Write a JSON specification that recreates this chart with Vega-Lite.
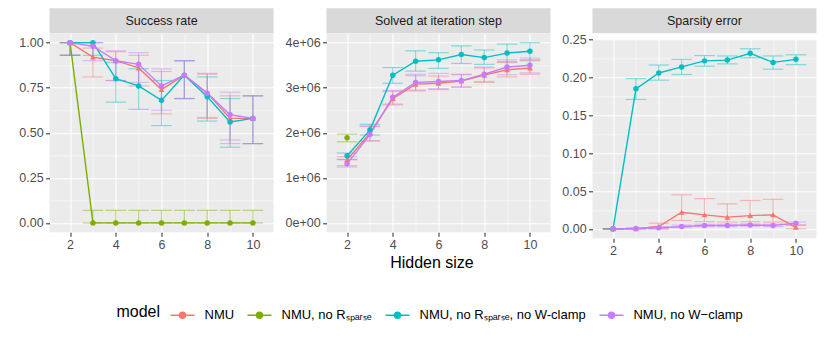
{
  "$schema": "https://vega.github.io/schema/vega-lite/v6.json",
  "autosize": {"type": "pad"},
  "padding": {"left": 18.5, "top": 8.3, "right": 5, "bottom": 5},
  "data": {"values": [
    {"panel": "Success rate", "model": "NMU", "size": 2, "value": 1, "lower": 0.93, "upper": 1},
    {"panel": "Success rate", "model": "NMU", "size": 3, "value": 0.92, "lower": 0.81, "upper": 0.97},
    {"panel": "Success rate", "model": "NMU", "size": 4, "value": 0.90, "lower": 0.79, "upper": 0.95},
    {"panel": "Success rate", "model": "NMU", "size": 5, "value": 0.86, "lower": 0.76, "upper": 0.93},
    {"panel": "Success rate", "model": "NMU", "size": 6, "value": 0.74, "lower": 0.605, "upper": 0.84},
    {"panel": "Success rate", "model": "NMU", "size": 7, "value": 0.82, "lower": 0.69, "upper": 0.90},
    {"panel": "Success rate", "model": "NMU", "size": 8, "value": 0.72, "lower": 0.58, "upper": 0.825},
    {"panel": "Success rate", "model": "NMU", "size": 9, "value": 0.58, "lower": 0.44, "upper": 0.705},
    {"panel": "Success rate", "model": "NMU", "size": 10, "value": 0.58, "lower": 0.44, "upper": 0.705},
    {"panel": "Success rate", "model": "NMU, no Rₛₚₐᵣₛₑ", "size": 2, "value": 1, "lower": 0.93, "upper": 1},
    {"panel": "Success rate", "model": "NMU, no Rₛₚₐᵣₛₑ", "size": 3, "value": 0, "lower": 0, "upper": 0.07},
    {"panel": "Success rate", "model": "NMU, no Rₛₚₐᵣₛₑ", "size": 4, "value": 0, "lower": 0, "upper": 0.07},
    {"panel": "Success rate", "model": "NMU, no Rₛₚₐᵣₛₑ", "size": 5, "value": 0, "lower": 0, "upper": 0.07},
    {"panel": "Success rate", "model": "NMU, no Rₛₚₐᵣₛₑ", "size": 6, "value": 0, "lower": 0, "upper": 0.07},
    {"panel": "Success rate", "model": "NMU, no Rₛₚₐᵣₛₑ", "size": 7, "value": 0, "lower": 0, "upper": 0.07},
    {"panel": "Success rate", "model": "NMU, no Rₛₚₐᵣₛₑ", "size": 8, "value": 0, "lower": 0, "upper": 0.07},
    {"panel": "Success rate", "model": "NMU, no Rₛₚₐᵣₛₑ", "size": 9, "value": 0, "lower": 0, "upper": 0.07},
    {"panel": "Success rate", "model": "NMU, no Rₛₚₐᵣₛₑ", "size": 10, "value": 0, "lower": 0, "upper": 0.07},
    {"panel": "Success rate", "model": "NMU, no Rₛₚₐᵣₛₑ, no W-clamp", "size": 2, "value": 1, "lower": 0.93, "upper": 1},
    {"panel": "Success rate", "model": "NMU, no Rₛₚₐᵣₛₑ, no W-clamp", "size": 3, "value": 1, "lower": 0.93, "upper": 1},
    {"panel": "Success rate", "model": "NMU, no Rₛₚₐᵣₛₑ, no W-clamp", "size": 4, "value": 0.80, "lower": 0.67, "upper": 0.89},
    {"panel": "Success rate", "model": "NMU, no Rₛₚₐᵣₛₑ, no W-clamp", "size": 5, "value": 0.76, "lower": 0.63, "upper": 0.855},
    {"panel": "Success rate", "model": "NMU, no Rₛₚₐᵣₛₑ, no W-clamp", "size": 6, "value": 0.68, "lower": 0.54, "upper": 0.79},
    {"panel": "Success rate", "model": "NMU, no Rₛₚₐᵣₛₑ, no W-clamp", "size": 7, "value": 0.82, "lower": 0.69, "upper": 0.90},
    {"panel": "Success rate", "model": "NMU, no Rₛₚₐᵣₛₑ, no W-clamp", "size": 8, "value": 0.70, "lower": 0.565, "upper": 0.81},
    {"panel": "Success rate", "model": "NMU, no Rₛₚₐᵣₛₑ, no W-clamp", "size": 9, "value": 0.56, "lower": 0.42, "upper": 0.69},
    {"panel": "Success rate", "model": "NMU, no Rₛₚₐᵣₛₑ, no W-clamp", "size": 10, "value": 0.58, "lower": 0.44, "upper": 0.705},
    {"panel": "Success rate", "model": "NMU, no W−clamp", "size": 2, "value": 1, "lower": 0.93, "upper": 1},
    {"panel": "Success rate", "model": "NMU, no W−clamp", "size": 3, "value": 0.98, "lower": 0.90, "upper": 1},
    {"panel": "Success rate", "model": "NMU, no W−clamp", "size": 4, "value": 0.90, "lower": 0.79, "upper": 0.955},
    {"panel": "Success rate", "model": "NMU, no W−clamp", "size": 5, "value": 0.88, "lower": 0.78, "upper": 0.945},
    {"panel": "Success rate", "model": "NMU, no W−clamp", "size": 6, "value": 0.76, "lower": 0.625, "upper": 0.855},
    {"panel": "Success rate", "model": "NMU, no W−clamp", "size": 7, "value": 0.82, "lower": 0.69, "upper": 0.90},
    {"panel": "Success rate", "model": "NMU, no W−clamp", "size": 8, "value": 0.72, "lower": 0.585, "upper": 0.83},
    {"panel": "Success rate", "model": "NMU, no W−clamp", "size": 9, "value": 0.60, "lower": 0.46, "upper": 0.725},
    {"panel": "Success rate", "model": "NMU, no W−clamp", "size": 10, "value": 0.58, "lower": 0.44, "upper": 0.705},

    {"panel": "Solved at iteration step", "model": "NMU", "size": 2, "value": 1400000, "lower": 1270000, "upper": 1470000},
    {"panel": "Solved at iteration step", "model": "NMU", "size": 3, "value": 1990000, "lower": 1820000, "upper": 2150000},
    {"panel": "Solved at iteration step", "model": "NMU", "size": 4, "value": 2760000, "lower": 2620000, "upper": 2920000},
    {"panel": "Solved at iteration step", "model": "NMU", "size": 5, "value": 3080000, "lower": 2930000, "upper": 3270000},
    {"panel": "Solved at iteration step", "model": "NMU", "size": 6, "value": 3100000, "lower": 2960000, "upper": 3260000},
    {"panel": "Solved at iteration step", "model": "NMU", "size": 7, "value": 3150000, "lower": 3010000, "upper": 3290000},
    {"panel": "Solved at iteration step", "model": "NMU", "size": 8, "value": 3280000, "lower": 3120000, "upper": 3440000},
    {"panel": "Solved at iteration step", "model": "NMU", "size": 9, "value": 3400000, "lower": 3240000, "upper": 3560000},
    {"panel": "Solved at iteration step", "model": "NMU", "size": 10, "value": 3440000, "lower": 3300000, "upper": 3600000},
    {"panel": "Solved at iteration step", "model": "NMU, no Rₛₚₐᵣₛₑ", "size": 2, "value": 1890000, "lower": 1800000, "upper": 1970000},
    {"panel": "Solved at iteration step", "model": "NMU, no Rₛₚₐᵣₛₑ, no W-clamp", "size": 2, "value": 1490000, "lower": 1410000, "upper": 1550000},
    {"panel": "Solved at iteration step", "model": "NMU, no Rₛₚₐᵣₛₑ, no W-clamp", "size": 3, "value": 2060000, "lower": 1950000, "upper": 2190000},
    {"panel": "Solved at iteration step", "model": "NMU, no Rₛₚₐᵣₛₑ, no W-clamp", "size": 4, "value": 3280000, "lower": 3100000, "upper": 3450000},
    {"panel": "Solved at iteration step", "model": "NMU, no Rₛₚₐᵣₛₑ, no W-clamp", "size": 5, "value": 3590000, "lower": 3370000, "upper": 3820000},
    {"panel": "Solved at iteration step", "model": "NMU, no Rₛₚₐᵣₛₑ, no W-clamp", "size": 6, "value": 3620000, "lower": 3430000, "upper": 3780000},
    {"panel": "Solved at iteration step", "model": "NMU, no Rₛₚₐᵣₛₑ, no W-clamp", "size": 7, "value": 3740000, "lower": 3540000, "upper": 3930000},
    {"panel": "Solved at iteration step", "model": "NMU, no Rₛₚₐᵣₛₑ, no W-clamp", "size": 8, "value": 3670000, "lower": 3520000, "upper": 3840000},
    {"panel": "Solved at iteration step", "model": "NMU, no Rₛₚₐᵣₛₑ, no W-clamp", "size": 9, "value": 3770000, "lower": 3580000, "upper": 3970000},
    {"panel": "Solved at iteration step", "model": "NMU, no Rₛₚₐᵣₛₑ, no W-clamp", "size": 10, "value": 3810000, "lower": 3620000, "upper": 4000000},
    {"panel": "Solved at iteration step", "model": "NMU, no W−clamp", "size": 2, "value": 1310000, "lower": 1240000, "upper": 1400000},
    {"panel": "Solved at iteration step", "model": "NMU, no W−clamp", "size": 3, "value": 1960000, "lower": 1820000, "upper": 2140000},
    {"panel": "Solved at iteration step", "model": "NMU, no W−clamp", "size": 4, "value": 2790000, "lower": 2640000, "upper": 2940000},
    {"panel": "Solved at iteration step", "model": "NMU, no W−clamp", "size": 5, "value": 3120000, "lower": 2950000, "upper": 3300000},
    {"panel": "Solved at iteration step", "model": "NMU, no W−clamp", "size": 6, "value": 3140000, "lower": 2980000, "upper": 3320000},
    {"panel": "Solved at iteration step", "model": "NMU, no W−clamp", "size": 7, "value": 3160000, "lower": 3020000, "upper": 3300000},
    {"panel": "Solved at iteration step", "model": "NMU, no W−clamp", "size": 8, "value": 3300000, "lower": 3140000, "upper": 3460000},
    {"panel": "Solved at iteration step", "model": "NMU, no W−clamp", "size": 9, "value": 3460000, "lower": 3290000, "upper": 3620000},
    {"panel": "Solved at iteration step", "model": "NMU, no W−clamp", "size": 10, "value": 3500000, "lower": 3330000, "upper": 3660000},

    {"panel": "Sparsity error", "model": "NMU", "size": 2, "value": 0, "lower": 0, "upper": 0},
    {"panel": "Sparsity error", "model": "NMU", "size": 3, "value": 0, "lower": 0, "upper": 0},
    {"panel": "Sparsity error", "model": "NMU", "size": 4, "value": 0.003, "lower": 0, "upper": 0.0075},
    {"panel": "Sparsity error", "model": "NMU", "size": 5, "value": 0.022, "lower": 0.011, "upper": 0.045},
    {"panel": "Sparsity error", "model": "NMU", "size": 6, "value": 0.0185, "lower": 0.0095, "upper": 0.040},
    {"panel": "Sparsity error", "model": "NMU", "size": 7, "value": 0.0155, "lower": 0.009, "upper": 0.033},
    {"panel": "Sparsity error", "model": "NMU", "size": 8, "value": 0.0175, "lower": 0.0095, "upper": 0.0375},
    {"panel": "Sparsity error", "model": "NMU", "size": 9, "value": 0.0185, "lower": 0.009, "upper": 0.039},
    {"panel": "Sparsity error", "model": "NMU", "size": 10, "value": 0.002, "lower": 0, "upper": 0.005},
    {"panel": "Sparsity error", "model": "NMU, no Rₛₚₐᵣₛₑ", "size": 2, "value": 0, "lower": 0, "upper": 0},
    {"panel": "Sparsity error", "model": "NMU, no Rₛₚₐᵣₛₑ, no W-clamp", "size": 2, "value": 0, "lower": 0, "upper": 0},
    {"panel": "Sparsity error", "model": "NMU, no Rₛₚₐᵣₛₑ, no W-clamp", "size": 3, "value": 0.185, "lower": 0.171, "upper": 0.1985},
    {"panel": "Sparsity error", "model": "NMU, no Rₛₚₐᵣₛₑ, no W-clamp", "size": 4, "value": 0.206, "lower": 0.1965, "upper": 0.2165},
    {"panel": "Sparsity error", "model": "NMU, no Rₛₚₐᵣₛₑ, no W-clamp", "size": 5, "value": 0.214, "lower": 0.204, "upper": 0.224},
    {"panel": "Sparsity error", "model": "NMU, no Rₛₚₐᵣₛₑ, no W-clamp", "size": 6, "value": 0.222, "lower": 0.215, "upper": 0.229},
    {"panel": "Sparsity error", "model": "NMU, no Rₛₚₐᵣₛₑ, no W-clamp", "size": 7, "value": 0.223, "lower": 0.218, "upper": 0.2285},
    {"panel": "Sparsity error", "model": "NMU, no Rₛₚₐᵣₛₑ, no W-clamp", "size": 8, "value": 0.232, "lower": 0.226, "upper": 0.238},
    {"panel": "Sparsity error", "model": "NMU, no Rₛₚₐᵣₛₑ, no W-clamp", "size": 9, "value": 0.220, "lower": 0.211, "upper": 0.2285},
    {"panel": "Sparsity error", "model": "NMU, no Rₛₚₐᵣₛₑ, no W-clamp", "size": 10, "value": 0.224, "lower": 0.217, "upper": 0.230},
    {"panel": "Sparsity error", "model": "NMU, no W−clamp", "size": 2, "value": 0, "lower": 0, "upper": 0},
    {"panel": "Sparsity error", "model": "NMU, no W−clamp", "size": 3, "value": 0.0005, "lower": 0, "upper": 0.0015},
    {"panel": "Sparsity error", "model": "NMU, no W−clamp", "size": 4, "value": 0.0013, "lower": 0, "upper": 0.003},
    {"panel": "Sparsity error", "model": "NMU, no W−clamp", "size": 5, "value": 0.003, "lower": 0.0015, "upper": 0.005},
    {"panel": "Sparsity error", "model": "NMU, no W−clamp", "size": 6, "value": 0.0045, "lower": 0.003, "upper": 0.006},
    {"panel": "Sparsity error", "model": "NMU, no W−clamp", "size": 7, "value": 0.0045, "lower": 0.003, "upper": 0.006},
    {"panel": "Sparsity error", "model": "NMU, no W−clamp", "size": 8, "value": 0.005, "lower": 0.0035, "upper": 0.0065},
    {"panel": "Sparsity error", "model": "NMU, no W−clamp", "size": 9, "value": 0.0045, "lower": 0.003, "upper": 0.006},
    {"panel": "Sparsity error", "model": "NMU, no W−clamp", "size": 10, "value": 0.0075, "lower": 0.005, "upper": 0.009}
  ]},
  "hconcat": [
    {
      "spacing": 0,
      "vconcat": [
        {"width": 224, "height": 25, "view": {"fill": "#D9D9D9", "stroke": null},
         "data": {"values": [{"strip": "Success rate"}]},
         "mark": {"type": "text", "fontSize": 12.5, "color": "#1A1A1A"},
         "encoding": {"text": {"field": "strip"}}},
        {"width": 224, "height": 199,
         "transform": [{"filter": "datum.panel == 'Success rate'"}],
         "encoding": {
           "x": {"field": "size", "type": "quantitative", "scale": {"domain": [1.1, 10.9], "nice": false, "zero": false},
                 "axis": {"values": [2,3,4,5,6,7,8,9,10], "title": null, "labelExpr": "datum.value % 2 == 0 ? datum.label : ''",
                          "tickOpacity": {"condition": {"test": "datum.value % 2 == 0", "value": 1}, "value": 0},
                          "gridWidth": {"condition": {"test": "datum.value % 2 == 0", "value": 1.1}, "value": 0.55}}},
           "color": {"field": "model", "type": "nominal",
                     "scale": {"domain": ["NMU", "NMU, no Rₛₚₐᵣₛₑ", "NMU, no Rₛₚₐᵣₛₑ, no W-clamp", "NMU, no W−clamp"], "range": ["#F8766D", "#7CAE00", "#00BFC4", "#C77CFF"]},
                     "legend": {"orient": "none", "direction": "horizontal", "legendX": 67, "legendY": 294, "title": "model", "titleOrient": "left",
                                "titleFontSize": 16, "titleFontWeight": "normal", "titleColor": "#000000", "titlePadding": 9,
                                "labelFontSize": 13, "labelColor": "#000000", "labelOffset": 9, "columnPadding": 10, "labelLimit": 400,
                                "symbolType": "M-1,0L1,0M0.25,0A0.25,0.25,0,1,1,-0.25,0A0.25,0.25,0,1,1,0.25,0Z", "symbolSize": 576, "symbolStrokeWidth": 1.4, "symbolOpacity": 1,
                                "encode": {"symbols": {"update": {"stroke": {"scale": "color", "field": "value"}, "strokeWidth": {"value": 1.4}}}}}}
         },
         "layer": [
           {"mark": {"type": "rule", "opacity": 0.45, "strokeWidth": 1.2},
            "encoding": {"y": {"field": "lower", "type": "quantitative", "scale": {"domain": [-0.052, 1.052], "nice": false, "zero": false},
                               "axis": {"values": [0,0.125,0.25,0.375,0.5,0.625,0.75,0.875,1], "title": null,
                                        "labelExpr": "abs(datum.value*4 - round(datum.value*4)) < 1e-6 ? format(datum.value, '.2f') : ''",
                                        "tickOpacity": {"condition": {"test": "abs(datum.value*4 - round(datum.value*4)) < 1e-6", "value": 1}, "value": 0},
                                        "gridWidth": {"condition": {"test": "abs(datum.value*4 - round(datum.value*4)) < 1e-6", "value": 1.1}, "value": 0.55}}},
                         "y2": {"field": "upper"}}},
           {"mark": {"type": "tick", "orient": "horizontal", "size": 20.5, "thickness": 1.2, "opacity": 0.45},
            "encoding": {"y": {"field": "lower", "type": "quantitative", "scale": {"domain": [-0.052, 1.052], "nice": false, "zero": false},
                               "axis": {"values": [0,0.125,0.25,0.375,0.5,0.625,0.75,0.875,1], "title": null,
                                        "labelExpr": "abs(datum.value*4 - round(datum.value*4)) < 1e-6 ? format(datum.value, '.2f') : ''",
                                        "tickOpacity": {"condition": {"test": "abs(datum.value*4 - round(datum.value*4)) < 1e-6", "value": 1}, "value": 0},
                                        "gridWidth": {"condition": {"test": "abs(datum.value*4 - round(datum.value*4)) < 1e-6", "value": 1.1}, "value": 0.55}}}}},
           {"mark": {"type": "tick", "orient": "horizontal", "size": 20.5, "thickness": 1.2, "opacity": 0.45},
            "encoding": {"y": {"field": "upper", "type": "quantitative", "scale": {"domain": [-0.052, 1.052], "nice": false, "zero": false},
                               "axis": {"values": [0,0.125,0.25,0.375,0.5,0.625,0.75,0.875,1], "title": null,
                                        "labelExpr": "abs(datum.value*4 - round(datum.value*4)) < 1e-6 ? format(datum.value, '.2f') : ''",
                                        "tickOpacity": {"condition": {"test": "abs(datum.value*4 - round(datum.value*4)) < 1e-6", "value": 1}, "value": 0},
                                        "gridWidth": {"condition": {"test": "abs(datum.value*4 - round(datum.value*4)) < 1e-6", "value": 1.1}, "value": 0.55}}}}},
           {"mark": {"type": "line", "strokeWidth": 1.4},
            "encoding": {"y": {"field": "value", "type": "quantitative", "scale": {"domain": [-0.052, 1.052], "nice": false, "zero": false},
                               "axis": {"values": [0,0.125,0.25,0.375,0.5,0.625,0.75,0.875,1], "title": null,
                                        "labelExpr": "abs(datum.value*4 - round(datum.value*4)) < 1e-6 ? format(datum.value, '.2f') : ''",
                                        "tickOpacity": {"condition": {"test": "abs(datum.value*4 - round(datum.value*4)) < 1e-6", "value": 1}, "value": 0},
                                        "gridWidth": {"condition": {"test": "abs(datum.value*4 - round(datum.value*4)) < 1e-6", "value": 1.1}, "value": 0.55}}}}},
           {"transform": [{"filter": "datum.model == 'NMU'"}],
            "mark": {"type": "point", "shape": "triangle-up", "filled": true, "size": 34, "opacity": 1},
            "encoding": {"y": {"field": "value", "type": "quantitative", "scale": {"domain": [-0.052, 1.052], "nice": false, "zero": false},
                               "axis": {"values": [0,0.125,0.25,0.375,0.5,0.625,0.75,0.875,1], "title": null,
                                        "labelExpr": "abs(datum.value*4 - round(datum.value*4)) < 1e-6 ? format(datum.value, '.2f') : ''",
                                        "tickOpacity": {"condition": {"test": "abs(datum.value*4 - round(datum.value*4)) < 1e-6", "value": 1}, "value": 0},
                                        "gridWidth": {"condition": {"test": "abs(datum.value*4 - round(datum.value*4)) < 1e-6", "value": 1.1}, "value": 0.55}}}}},
           {"transform": [{"filter": "datum.model != 'NMU'"}],
            "mark": {"type": "point", "shape": "circle", "filled": true, "size": 30, "opacity": 1},
            "encoding": {"y": {"field": "value", "type": "quantitative", "scale": {"domain": [-0.052, 1.052], "nice": false, "zero": false},
                               "axis": {"values": [0,0.125,0.25,0.375,0.5,0.625,0.75,0.875,1], "title": null,
                                        "labelExpr": "abs(datum.value*4 - round(datum.value*4)) < 1e-6 ? format(datum.value, '.2f') : ''",
                                        "tickOpacity": {"condition": {"test": "abs(datum.value*4 - round(datum.value*4)) < 1e-6", "value": 1}, "value": 0},
                                        "gridWidth": {"condition": {"test": "abs(datum.value*4 - round(datum.value*4)) < 1e-6", "value": 1.1}, "value": 0.55}}}}}
         ]}
      ]
    },
    {
      "spacing": 0,
      "vconcat": [
        {"width": 224, "height": 25, "view": {"fill": "#D9D9D9", "stroke": null},
         "data": {"values": [{"strip": "Solved at iteration step"}]},
         "mark": {"type": "text", "fontSize": 12.5, "color": "#1A1A1A"},
         "encoding": {"text": {"field": "strip"}}},
        {"width": 224, "height": 199,
         "transform": [{"filter": "datum.panel == 'Solved at iteration step'"}],
         "encoding": {
           "x": {"field": "size", "type": "quantitative", "scale": {"domain": [1.1, 10.9], "nice": false, "zero": false},
                 "axis": {"values": [2,3,4,5,6,7,8,9,10], "title": "Hidden size", "titleX": 105, "titlePadding": 3, "labelExpr": "datum.value % 2 == 0 ? datum.label : ''",
                          "tickOpacity": {"condition": {"test": "datum.value % 2 == 0", "value": 1}, "value": 0},
                          "gridWidth": {"condition": {"test": "datum.value % 2 == 0", "value": 1.1}, "value": 0.55}}},
           "color": {"field": "model", "type": "nominal",
                     "scale": {"domain": ["NMU", "NMU, no Rₛₚₐᵣₛₑ", "NMU, no Rₛₚₐᵣₛₑ, no W-clamp", "NMU, no W−clamp"], "range": ["#F8766D", "#7CAE00", "#00BFC4", "#C77CFF"]},
                     "legend": {"orient": "none", "direction": "horizontal", "legendX": 67, "legendY": 294, "title": "model", "titleOrient": "left",
                                "titleFontSize": 16, "titleFontWeight": "normal", "titleColor": "#000000", "titlePadding": 9,
                                "labelFontSize": 13, "labelColor": "#000000", "labelOffset": 9, "columnPadding": 10, "labelLimit": 400,
                                "symbolType": "M-1,0L1,0M0.25,0A0.25,0.25,0,1,1,-0.25,0A0.25,0.25,0,1,1,0.25,0Z", "symbolSize": 576, "symbolStrokeWidth": 1.4, "symbolOpacity": 1,
                                "encode": {"symbols": {"update": {"stroke": {"scale": "color", "field": "value"}, "strokeWidth": {"value": 1.4}}}}}}
         },
         "layer": [
           {"mark": {"type": "rule", "opacity": 0.45, "strokeWidth": 1.2},
            "encoding": {"y": {"field": "lower", "type": "quantitative", "scale": {"domain": [-210000, 4210000], "nice": false, "zero": false},
                               "axis": {"values": [0,500000,1000000,1500000,2000000,2500000,3000000,3500000,4000000], "title": null,
                                        "labelExpr": "datum.value == 0 ? '0e+00' : (datum.value % 1000000 == 0 ? format(datum.value/1000000, 'd') + 'e+06' : '')",
                                        "tickOpacity": {"condition": {"test": "datum.value % 1000000 == 0", "value": 1}, "value": 0},
                                        "gridWidth": {"condition": {"test": "datum.value % 1000000 == 0", "value": 1.1}, "value": 0.55}}},
                         "y2": {"field": "upper"}}},
           {"mark": {"type": "tick", "orient": "horizontal", "size": 20.5, "thickness": 1.2, "opacity": 0.45},
            "encoding": {"y": {"field": "lower", "type": "quantitative", "scale": {"domain": [-210000, 4210000], "nice": false, "zero": false},
                               "axis": {"values": [0,500000,1000000,1500000,2000000,2500000,3000000,3500000,4000000], "title": null,
                                        "labelExpr": "datum.value == 0 ? '0e+00' : (datum.value % 1000000 == 0 ? format(datum.value/1000000, 'd') + 'e+06' : '')",
                                        "tickOpacity": {"condition": {"test": "datum.value % 1000000 == 0", "value": 1}, "value": 0},
                                        "gridWidth": {"condition": {"test": "datum.value % 1000000 == 0", "value": 1.1}, "value": 0.55}}}}},
           {"mark": {"type": "tick", "orient": "horizontal", "size": 20.5, "thickness": 1.2, "opacity": 0.45},
            "encoding": {"y": {"field": "upper", "type": "quantitative", "scale": {"domain": [-210000, 4210000], "nice": false, "zero": false},
                               "axis": {"values": [0,500000,1000000,1500000,2000000,2500000,3000000,3500000,4000000], "title": null,
                                        "labelExpr": "datum.value == 0 ? '0e+00' : (datum.value % 1000000 == 0 ? format(datum.value/1000000, 'd') + 'e+06' : '')",
                                        "tickOpacity": {"condition": {"test": "datum.value % 1000000 == 0", "value": 1}, "value": 0},
                                        "gridWidth": {"condition": {"test": "datum.value % 1000000 == 0", "value": 1.1}, "value": 0.55}}}}},
           {"mark": {"type": "line", "strokeWidth": 1.4},
            "encoding": {"y": {"field": "value", "type": "quantitative", "scale": {"domain": [-210000, 4210000], "nice": false, "zero": false},
                               "axis": {"values": [0,500000,1000000,1500000,2000000,2500000,3000000,3500000,4000000], "title": null,
                                        "labelExpr": "datum.value == 0 ? '0e+00' : (datum.value % 1000000 == 0 ? format(datum.value/1000000, 'd') + 'e+06' : '')",
                                        "tickOpacity": {"condition": {"test": "datum.value % 1000000 == 0", "value": 1}, "value": 0},
                                        "gridWidth": {"condition": {"test": "datum.value % 1000000 == 0", "value": 1.1}, "value": 0.55}}}}},
           {"transform": [{"filter": "datum.model == 'NMU'"}],
            "mark": {"type": "point", "shape": "triangle-up", "filled": true, "size": 34, "opacity": 1},
            "encoding": {"y": {"field": "value", "type": "quantitative", "scale": {"domain": [-210000, 4210000], "nice": false, "zero": false},
                               "axis": {"values": [0,500000,1000000,1500000,2000000,2500000,3000000,3500000,4000000], "title": null,
                                        "labelExpr": "datum.value == 0 ? '0e+00' : (datum.value % 1000000 == 0 ? format(datum.value/1000000, 'd') + 'e+06' : '')",
                                        "tickOpacity": {"condition": {"test": "datum.value % 1000000 == 0", "value": 1}, "value": 0},
                                        "gridWidth": {"condition": {"test": "datum.value % 1000000 == 0", "value": 1.1}, "value": 0.55}}}}},
           {"transform": [{"filter": "datum.model != 'NMU'"}],
            "mark": {"type": "point", "shape": "circle", "filled": true, "size": 30, "opacity": 1},
            "encoding": {"y": {"field": "value", "type": "quantitative", "scale": {"domain": [-210000, 4210000], "nice": false, "zero": false},
                               "axis": {"values": [0,500000,1000000,1500000,2000000,2500000,3000000,3500000,4000000], "title": null,
                                        "labelExpr": "datum.value == 0 ? '0e+00' : (datum.value % 1000000 == 0 ? format(datum.value/1000000, 'd') + 'e+06' : '')",
                                        "tickOpacity": {"condition": {"test": "datum.value % 1000000 == 0", "value": 1}, "value": 0},
                                        "gridWidth": {"condition": {"test": "datum.value % 1000000 == 0", "value": 1.1}, "value": 0.55}}}}}
         ]}
      ]
    },
    {
      "spacing": 0,
      "vconcat": [
        {"width": 224, "height": 25, "view": {"fill": "#D9D9D9", "stroke": null},
         "data": {"values": [{"strip": "Sparsity error"}]},
         "mark": {"type": "text", "fontSize": 12.5, "color": "#1A1A1A"},
         "encoding": {"text": {"field": "strip"}}},
        {"width": 224, "height": 199,
         "transform": [{"filter": "datum.panel == 'Sparsity error'"}],
         "encoding": {
           "x": {"field": "size", "type": "quantitative", "scale": {"domain": [1.1, 10.9], "nice": false, "zero": false},
                 "axis": {"values": [2,3,4,5,6,7,8,9,10], "title": null, "labelExpr": "datum.value % 2 == 0 ? datum.label : ''",
                          "tickOpacity": {"condition": {"test": "datum.value % 2 == 0", "value": 1}, "value": 0},
                          "gridWidth": {"condition": {"test": "datum.value % 2 == 0", "value": 1.1}, "value": 0.55}}},
           "color": {"field": "model", "type": "nominal",
                     "scale": {"domain": ["NMU", "NMU, no Rₛₚₐᵣₛₑ", "NMU, no Rₛₚₐᵣₛₑ, no W-clamp", "NMU, no W−clamp"], "range": ["#F8766D", "#7CAE00", "#00BFC4", "#C77CFF"]},
                     "legend": {"orient": "none", "direction": "horizontal", "legendX": 67, "legendY": 294, "title": "model", "titleOrient": "left",
                                "titleFontSize": 16, "titleFontWeight": "normal", "titleColor": "#000000", "titlePadding": 9,
                                "labelFontSize": 13, "labelColor": "#000000", "labelOffset": 9, "columnPadding": 10, "labelLimit": 400,
                                "symbolType": "M-1,0L1,0M0.25,0A0.25,0.25,0,1,1,-0.25,0A0.25,0.25,0,1,1,0.25,0Z", "symbolSize": 576, "symbolStrokeWidth": 1.4, "symbolOpacity": 1,
                                "encode": {"symbols": {"update": {"stroke": {"scale": "color", "field": "value"}, "strokeWidth": {"value": 1.4}}}}}}
         },
         "layer": [
           {"mark": {"type": "rule", "opacity": 0.45, "strokeWidth": 1.2},
            "encoding": {"y": {"field": "lower", "type": "quantitative", "scale": {"domain": [-0.0125, 0.2505], "nice": false, "zero": false},
                               "axis": {"values": [0,0.025,0.05,0.075,0.1,0.125,0.15,0.175,0.2,0.225,0.25], "title": null,
                                        "labelExpr": "abs(datum.value*20 - round(datum.value*20)) < 1e-6 ? format(datum.value, '.2f') : ''",
                                        "tickOpacity": {"condition": {"test": "abs(datum.value*20 - round(datum.value*20)) < 1e-6", "value": 1}, "value": 0},
                                        "gridWidth": {"condition": {"test": "abs(datum.value*20 - round(datum.value*20)) < 1e-6", "value": 1.1}, "value": 0.55}}},
                         "y2": {"field": "upper"}}},
           {"mark": {"type": "tick", "orient": "horizontal", "size": 20.5, "thickness": 1.2, "opacity": 0.45},
            "encoding": {"y": {"field": "lower", "type": "quantitative", "scale": {"domain": [-0.0125, 0.2505], "nice": false, "zero": false},
                               "axis": {"values": [0,0.025,0.05,0.075,0.1,0.125,0.15,0.175,0.2,0.225,0.25], "title": null,
                                        "labelExpr": "abs(datum.value*20 - round(datum.value*20)) < 1e-6 ? format(datum.value, '.2f') : ''",
                                        "tickOpacity": {"condition": {"test": "abs(datum.value*20 - round(datum.value*20)) < 1e-6", "value": 1}, "value": 0},
                                        "gridWidth": {"condition": {"test": "abs(datum.value*20 - round(datum.value*20)) < 1e-6", "value": 1.1}, "value": 0.55}}}}},
           {"mark": {"type": "tick", "orient": "horizontal", "size": 20.5, "thickness": 1.2, "opacity": 0.45},
            "encoding": {"y": {"field": "upper", "type": "quantitative", "scale": {"domain": [-0.0125, 0.2505], "nice": false, "zero": false},
                               "axis": {"values": [0,0.025,0.05,0.075,0.1,0.125,0.15,0.175,0.2,0.225,0.25], "title": null,
                                        "labelExpr": "abs(datum.value*20 - round(datum.value*20)) < 1e-6 ? format(datum.value, '.2f') : ''",
                                        "tickOpacity": {"condition": {"test": "abs(datum.value*20 - round(datum.value*20)) < 1e-6", "value": 1}, "value": 0},
                                        "gridWidth": {"condition": {"test": "abs(datum.value*20 - round(datum.value*20)) < 1e-6", "value": 1.1}, "value": 0.55}}}}},
           {"mark": {"type": "line", "strokeWidth": 1.4},
            "encoding": {"y": {"field": "value", "type": "quantitative", "scale": {"domain": [-0.0125, 0.2505], "nice": false, "zero": false},
                               "axis": {"values": [0,0.025,0.05,0.075,0.1,0.125,0.15,0.175,0.2,0.225,0.25], "title": null,
                                        "labelExpr": "abs(datum.value*20 - round(datum.value*20)) < 1e-6 ? format(datum.value, '.2f') : ''",
                                        "tickOpacity": {"condition": {"test": "abs(datum.value*20 - round(datum.value*20)) < 1e-6", "value": 1}, "value": 0},
                                        "gridWidth": {"condition": {"test": "abs(datum.value*20 - round(datum.value*20)) < 1e-6", "value": 1.1}, "value": 0.55}}}}},
           {"transform": [{"filter": "datum.model == 'NMU'"}],
            "mark": {"type": "point", "shape": "triangle-up", "filled": true, "size": 34, "opacity": 1},
            "encoding": {"y": {"field": "value", "type": "quantitative", "scale": {"domain": [-0.0125, 0.2505], "nice": false, "zero": false},
                               "axis": {"values": [0,0.025,0.05,0.075,0.1,0.125,0.15,0.175,0.2,0.225,0.25], "title": null,
                                        "labelExpr": "abs(datum.value*20 - round(datum.value*20)) < 1e-6 ? format(datum.value, '.2f') : ''",
                                        "tickOpacity": {"condition": {"test": "abs(datum.value*20 - round(datum.value*20)) < 1e-6", "value": 1}, "value": 0},
                                        "gridWidth": {"condition": {"test": "abs(datum.value*20 - round(datum.value*20)) < 1e-6", "value": 1.1}, "value": 0.55}}}}},
           {"transform": [{"filter": "datum.model != 'NMU'"}],
            "mark": {"type": "point", "shape": "circle", "filled": true, "size": 30, "opacity": 1},
            "encoding": {"y": {"field": "value", "type": "quantitative", "scale": {"domain": [-0.0125, 0.2505], "nice": false, "zero": false},
                               "axis": {"values": [0,0.025,0.05,0.075,0.1,0.125,0.15,0.175,0.2,0.225,0.25], "title": null,
                                        "labelExpr": "abs(datum.value*20 - round(datum.value*20)) < 1e-6 ? format(datum.value, '.2f') : ''",
                                        "tickOpacity": {"condition": {"test": "abs(datum.value*20 - round(datum.value*20)) < 1e-6", "value": 1}, "value": 0},
                                        "gridWidth": {"condition": {"test": "abs(datum.value*20 - round(datum.value*20)) < 1e-6", "value": 1.1}, "value": 0.55}}}}}
         ]}
      ]
    }
  ],
  "spacing": 11,
  "config": {
    "font": "Liberation Sans",
    "view": {"fill": "#EBEBEB", "stroke": null},
    "axis": {"domain": false, "grid": true, "gridColor": "#FFFFFF", "tickColor": "#333333", "tickSize": 3.9, "tickWidth": 1.07,
             "labelColor": "#4D4D4D", "labelFontSize": 12.5, "labelPadding": 2.5, "titleFontSize": 16, "titleFontWeight": "normal",
             "titleColor": "#000000", "labelFlush": false, "labelOverlap": false, "labelBound": false, "minExtent": 0}
  }
}
